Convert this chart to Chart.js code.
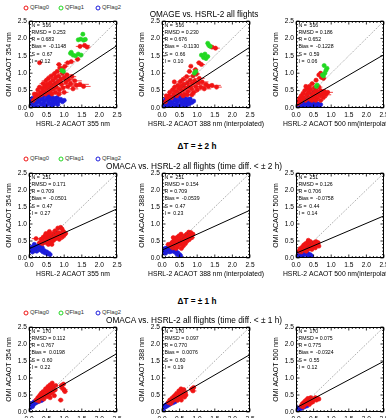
<!DOCTYPE html>
<html><head><meta charset="utf-8">
<script src="https://cdn.jsdelivr.net/npm/chart.js@4.4.0/dist/chart.umd.min.js"></script>
<style>
html,body{margin:0;padding:0;background:#fff;width:386px;height:418px;overflow:hidden;position:relative;font-family:"Liberation Sans",Arial,sans-serif;}
canvas{position:absolute;}
.t{position:absolute;white-space:pre;transform:translate(-50%,-50%);color:#000;line-height:1;z-index:5;}
.lg{position:absolute;font-size:5.8px;color:#333;white-space:pre;transform:translateY(-50%);line-height:1;z-index:5;}
.c{position:absolute;width:3px;height:3px;border-radius:50%;border:0.8px solid;transform:translate(-50%,-50%);z-index:5;}
</style>
</head><body>
<script>
// ---------- data ----------
const xAxisLabels = ['HSRL-2 ACAOT 355 nm','HSRL-2 ACAOT 388 nm (interpolated)','HSRL-2 ACAOT 500 nm(interpolated)'];
const yAxisLabels = ['OMI ACAOT 354 nm','OMI ACAOT 388 nm','OMI ACAOT 500 nm'];
const tickValues = [0,0.5,1,1.5,2,2.5];
const legendLabels = ['QFlag0','QFlag1','QFlag2'];
const rowTitles = ['OMAGE vs. HSRL-2 all flights','OMACA vs. HSRL-2 all flights (time diff. < ± 2 h)','OMACA vs. HSRL-2 all flights (time diff. < ± 1 h)'];
const rowHeaders = ['', 'ΔT = ± 2 h', 'ΔT = ± 1 h'];

const statN    = [516,516,516,251,251,251,170,170,170];
const statRMSD = ['0.253','0.230','0.186','0.171','0.154','0.126','0.112','0.097','0.075'];
const statR    = ['0.683','0.676','0.652','0.709','0.709','0.706','0.767','0.770','0.775'];
const statBias = ['-0.1148','-0.1130','-0.1228','-0.0501','-0.0539','-0.0758','0.0198','0.0076','-0.0324'];
const statS    = [0.67,0.66,0.59,0.47,0.47,0.44,0.60,0.60,0.55];
const statI    = [0.12,0.10,0.06,0.27,0.23,0.14,0.22,0.19,0.12];

// [x, y, xerr]
const red354All = [[0.12,0.22,0.05],[0.18,0.30,0.05],[0.22,0.40,0.06],[0.25,0.52,0.05],[0.28,0.35,0.06],[0.30,0.60,0.08],[0.33,0.45,0.07],[0.35,0.38,0.05],[0.38,0.55,0.08],[0.40,0.70,0.1],[0.42,0.48,0.06],[0.45,0.62,0.1],[0.47,0.40,0.06],[0.48,0.78,0.12],[0.50,0.55,0.1],[0.52,0.68,0.08],[0.55,0.45,0.07],[0.55,0.85,0.1],[0.58,0.60,0.12],[0.60,0.72,0.1],[0.62,0.50,0.08],[0.63,0.92,0.1],[0.65,0.65,0.15],[0.68,0.80,0.1],[0.70,0.55,0.1],[0.72,0.98,0.08],[0.74,0.70,0.15],[0.76,0.88,0.12],[0.78,0.60,0.1],[0.80,1.05,0.1],[0.82,0.75,0.15],[0.84,0.92,0.1],[0.86,0.52,0.1],[0.88,1.15,0.08],[0.90,0.82,0.18],[0.92,0.68,0.15],[0.95,1.00,0.12],[0.97,0.58,0.12],[1.00,0.88,0.15],[1.02,1.20,0.1],[1.05,0.75,0.18],[1.08,0.95,0.15],[1.10,0.62,0.2],[1.12,0.82,0.15],[1.18,0.70,0.2],[1.22,0.90,0.12],[1.25,0.55,0.15],[1.30,0.78,0.2],[1.35,0.65,0.2],[1.45,0.68,0.25],[1.55,0.62,0.2],[0.30,1.30,0.03],[0.85,1.25,0.08],[0.95,1.12,0.1],[1.10,1.30,0.1],[1.20,1.33,0.1],[1.38,1.40,0.08],[1.58,1.80,0.15],[1.65,1.75,0.1],[1.45,1.77,0.12],[0.15,0.40,0.04],[0.65,0.40,0.08],[0.75,0.45,0.1],[0.85,0.40,0.1],[1.00,0.45,0.12]];
const green354All = [[1.53,2.12],[1.40,1.96],[1.47,1.98],[1.55,1.95],[1.60,1.97],[1.18,1.57],[1.25,1.52],[1.32,1.50],[1.40,1.55],[1.48,1.52],[1.20,1.60],[0.93,1.08],[0.98,1.05]];
const blue354All = [[0.02,0.10],[0.05,0.20],[0.08,0.15],[0.10,0.28],[0.12,0.08],[0.15,0.22],[0.18,0.32],[0.20,0.15],[0.22,0.25],[0.25,0.05],[0.28,0.30],[0.30,0.18],[0.32,0.35],[0.35,0.10],[0.38,0.25],[0.40,0.32],[0.42,0.15],[0.45,0.22],[0.48,0.36],[0.50,0.08],[0.52,0.28],[0.55,0.18],[0.58,0.33],[0.60,0.12],[0.62,0.25],[0.65,0.30],[0.68,0.18],[0.70,0.10],[0.72,0.28],[0.75,0.22],[0.78,0.15],[0.80,0.30],[0.85,0.20],[0.90,0.25],[0.95,0.18],[1.00,0.22],[0.35,0.28],[0.45,0.05],[0.55,0.38],[0.15,0.05],[0.25,0.18],[0.65,0.05],[0.82,0.10]];

const red388All = [[0.10,0.18,0.04],[0.15,0.28,0.05],[0.20,0.35,0.05],[0.22,0.45,0.06],[0.27,0.30,0.05],[0.30,0.52,0.08],[0.33,0.40,0.06],[0.36,0.60,0.08],[0.40,0.48,0.08],[0.42,0.35,0.06],[0.45,0.65,0.1],[0.48,0.55,0.1],[0.50,0.42,0.08],[0.52,0.75,0.1],[0.55,0.62,0.1],[0.58,0.50,0.1],[0.60,0.82,0.1],[0.62,0.68,0.12],[0.65,0.40,0.08],[0.66,0.58,0.12],[0.70,0.90,0.1],[0.72,0.72,0.15],[0.74,0.48,0.1],[0.76,0.62,0.12],[0.78,1.05,0.08],[0.80,0.80,0.15],[0.82,1.20,0.06],[0.84,0.55,0.12],[0.86,0.70,0.18],[0.88,0.92,0.12],[0.90,0.45,0.1],[0.93,0.78,0.15],[0.96,0.62,0.15],[0.98,0.98,0.1],[1.00,0.52,0.12],[1.03,0.72,0.2],[1.06,0.85,0.15],[1.10,0.60,0.2],[1.14,0.75,0.18],[1.20,0.55,0.2],[1.25,0.68,0.2],[1.32,0.62,0.22],[1.42,0.65,0.25],[1.55,0.60,0.15],[0.95,1.10,0.08],[1.05,1.30,0.08],[1.12,1.25,0.1],[1.42,1.75,0.12],[1.52,1.72,0.12],[0.60,0.35,0.08],[0.72,0.38,0.1],[0.85,0.38,0.1],[0.35,0.75,0.05],[0.12,0.35,0.04]];
const green388All = [[1.30,1.86],[1.37,1.77],[1.33,1.80],[1.12,1.52],[1.18,1.45],[1.25,1.42],[1.30,1.48],[1.22,1.55],[0.92,1.00],[0.96,1.05]];
const blue388All = [[0.02,0.08],[0.05,0.18],[0.08,0.12],[0.10,0.25],[0.12,0.06],[0.15,0.20],[0.18,0.30],[0.20,0.12],[0.22,0.22],[0.25,0.04],[0.28,0.28],[0.30,0.15],[0.32,0.33],[0.35,0.08],[0.38,0.22],[0.40,0.30],[0.42,0.12],[0.45,0.20],[0.48,0.34],[0.50,0.06],[0.52,0.25],[0.55,0.15],[0.58,0.30],[0.60,0.10],[0.62,0.22],[0.65,0.28],[0.68,0.15],[0.70,0.08],[0.72,0.25],[0.75,0.18],[0.78,0.12],[0.80,0.26],[0.85,0.16],[0.90,0.20],[0.35,0.25],[0.45,0.04],[0.55,0.35],[0.15,0.04],[0.25,0.15],[0.65,0.04]];

const red500All = [[0.05,0.12,0.03],[0.08,0.20,0.04],[0.10,0.28,0.04],[0.13,0.18,0.04],[0.15,0.35,0.05],[0.18,0.25,0.05],[0.20,0.42,0.06],[0.22,0.30,0.05],[0.25,0.50,0.06],[0.27,0.22,0.05],[0.30,0.38,0.08],[0.32,0.55,0.08],[0.35,0.30,0.06],[0.36,0.45,0.08],[0.38,0.62,0.06],[0.40,0.25,0.06],[0.42,0.52,0.1],[0.44,0.38,0.1],[0.46,0.70,0.08],[0.48,0.30,0.08],[0.50,0.45,0.12],[0.52,0.58,0.1],[0.55,0.35,0.1],[0.57,0.80,0.06],[0.58,0.50,0.12],[0.60,0.28,0.08],[0.62,0.42,0.12],[0.65,0.60,0.1],[0.68,0.35,0.12],[0.70,0.50,0.15],[0.72,0.88,0.05],[0.75,0.40,0.12],[0.78,0.30,0.1],[0.80,0.48,0.15],[0.85,0.38,0.15],[0.90,0.45,0.15],[0.65,0.95,0.06],[0.70,1.00,0.06],[0.78,0.85,0.08],[0.28,0.62,0.04],[0.45,0.22,0.06],[0.56,0.22,0.08],[0.70,0.22,0.08]];
const green500All = [[0.80,1.22],[0.88,1.14],[0.85,1.08],[0.82,1.00],[0.78,0.92],[0.75,0.95],[0.58,0.62],[0.60,0.66]];
const blue500All = [[0.02,0.05],[0.04,0.12],[0.06,0.08],[0.08,0.16],[0.10,0.04],[0.12,0.12],[0.14,0.20],[0.16,0.08],[0.18,0.14],[0.20,0.03],[0.22,0.18],[0.24,0.10],[0.26,0.22],[0.28,0.06],[0.30,0.14],[0.32,0.20],[0.34,0.08],[0.36,0.16],[0.38,0.25],[0.40,0.05],[0.42,0.12],[0.44,0.18],[0.46,0.08],[0.48,0.14],[0.50,0.04],[0.52,0.10],[0.55,0.16],[0.58,0.08],[0.62,0.12],[0.66,0.06],[0.70,0.10],[0.30,0.02],[0.15,0.25]];

const red354Dt2 = [[0.20,0.57,0.12],[0.30,0.45,0.08],[0.35,0.55,0.08],[0.38,0.42,0.06],[0.40,0.60,0.1],[0.42,0.50,0.08],[0.45,0.65,0.1],[0.47,0.45,0.08],[0.50,0.58,0.1],[0.52,0.70,0.08],[0.55,0.50,0.1],[0.57,0.62,0.1],[0.58,0.78,0.06],[0.60,0.55,0.12],[0.62,0.68,0.1],[0.64,0.48,0.08],[0.66,0.60,0.12],[0.68,0.72,0.1],[0.70,0.52,0.1],[0.72,0.65,0.12],[0.74,0.80,0.08],[0.76,0.58,0.1],[0.78,0.70,0.12],[0.80,0.62,0.1],[0.82,0.88,0.06],[0.84,0.75,0.1],[0.86,0.55,0.1],[0.88,0.68,0.12],[0.90,0.90,0.05],[0.92,0.72,0.1],[0.95,0.62,0.1],[0.98,0.78,0.08],[1.00,0.68,0.08],[1.04,0.72,0.06],[0.55,0.40,0.06],[0.65,0.40,0.06],[0.48,0.72,0.05],[0.94,0.85,0.05]];
const blue354Dt2 = [[0.02,0.20],[0.04,0.28],[0.06,0.22],[0.08,0.32],[0.10,0.18],[0.12,0.25],[0.14,0.30],[0.16,0.22],[0.18,0.35],[0.20,0.28],[0.22,0.20],[0.25,0.32],[0.28,0.25],[0.30,0.35],[0.32,0.28],[0.35,0.22],[0.38,0.30],[0.40,0.18],[0.43,0.22],[0.46,0.15],[0.50,0.18],[0.53,0.12],[0.56,0.14],[0.60,0.10],[0.28,0.38],[0.15,0.40]];

const red388Dt2 = [[0.18,0.40,0.08],[0.25,0.35,0.06],[0.28,0.45,0.08],[0.30,0.30,0.06],[0.33,0.50,0.08],[0.35,0.38,0.06],[0.37,0.55,0.08],[0.40,0.42,0.08],[0.42,0.60,0.08],[0.44,0.32,0.06],[0.46,0.50,0.1],[0.48,0.65,0.08],[0.50,0.40,0.08],[0.52,0.55,0.1],[0.54,0.70,0.06],[0.56,0.45,0.1],[0.58,0.60,0.1],[0.60,0.35,0.08],[0.62,0.52,0.1],[0.64,0.65,0.1],[0.66,0.42,0.08],[0.68,0.58,0.1],[0.70,0.70,0.08],[0.72,0.50,0.1],[0.74,0.62,0.1],[0.76,0.76,0.06],[0.78,0.55,0.08],[0.80,0.68,0.08],[0.82,0.75,0.06],[0.85,0.60,0.08],[0.88,0.70,0.06],[0.40,0.28,0.06],[0.55,0.28,0.06],[0.32,0.60,0.05]];
const blue388Dt2 = [[0.02,0.15],[0.04,0.22],[0.06,0.18],[0.08,0.28],[0.10,0.14],[0.12,0.22],[0.14,0.30],[0.16,0.20],[0.18,0.26],[0.20,0.33],[0.22,0.18],[0.25,0.26],[0.28,0.20],[0.30,0.30],[0.33,0.24],[0.36,0.18],[0.39,0.22],[0.42,0.12],[0.45,0.15],[0.48,0.08],[0.50,0.10],[0.53,0.06],[0.26,0.35]];

const red500Dt2 = [[0.08,0.20,0.04],[0.12,0.28,0.05],[0.15,0.18,0.04],[0.18,0.32,0.06],[0.20,0.24,0.05],[0.22,0.38,0.06],[0.25,0.28,0.06],[0.27,0.42,0.06],[0.29,0.20,0.05],[0.31,0.34,0.08],[0.33,0.46,0.06],[0.35,0.26,0.06],[0.37,0.38,0.08],[0.39,0.30,0.08],[0.41,0.48,0.05],[0.43,0.35,0.08],[0.45,0.25,0.06],[0.47,0.42,0.08],[0.49,0.32,0.08],[0.51,0.45,0.06],[0.53,0.38,0.08],[0.55,0.30,0.06],[0.57,0.48,0.05],[0.60,0.40,0.06],[0.63,0.45,0.05],[0.65,0.35,0.05],[0.35,0.52,0.04]];
const blue500Dt2 = [[0.02,0.05],[0.04,0.10],[0.06,0.08],[0.08,0.14],[0.10,0.06],[0.12,0.12],[0.14,0.18],[0.16,0.10],[0.18,0.15],[0.20,0.08],[0.22,0.20],[0.25,0.12],[0.28,0.16],[0.30,0.10],[0.33,0.14],[0.36,0.08],[0.40,0.10],[0.44,0.06]];

const red354Dt1 = [[0.20,0.35,0.05],[0.25,0.42,0.06],[0.28,0.32,0.05],[0.30,0.48,0.06],[0.33,0.40,0.06],[0.35,0.55,0.08],[0.38,0.45,0.06],[0.40,0.60,0.08],[0.42,0.38,0.06],[0.45,0.52,0.08],[0.47,0.68,0.06],[0.50,0.45,0.08],[0.52,0.60,0.08],[0.54,0.75,0.06],[0.56,0.50,0.08],[0.58,0.65,0.08],[0.60,0.80,0.05],[0.62,0.55,0.08],[0.64,0.70,0.08],[0.66,0.85,0.05],[0.68,0.60,0.08],[0.70,0.75,0.06],[0.72,0.48,0.06],[0.74,0.65,0.08],[0.76,0.78,0.06],[0.60,0.42,0.06],[0.92,0.78,0.08],[0.95,0.70,0.1],[1.00,0.65,0.1],[0.98,0.82,0.06],[1.02,0.60,0.08],[0.90,0.35,0.08]];
const blue354Dt1 = [[0.01,0.15],[0.03,0.20],[0.05,0.18],[0.07,0.24],[0.09,0.20],[0.11,0.26],[0.13,0.22],[0.15,0.30],[0.17,0.26],[0.19,0.32],[0.21,0.28],[0.23,0.35],[0.25,0.30],[0.27,0.36],[0.30,0.32],[0.33,0.38],[0.36,0.34],[0.40,0.38],[0.03,0.12],[0.10,0.16]];

const red388Dt1 = [[0.18,0.28,0.05],[0.22,0.35,0.05],[0.25,0.25,0.05],[0.28,0.40,0.06],[0.30,0.32,0.05],[0.33,0.45,0.06],[0.35,0.36,0.06],[0.38,0.50,0.06],[0.40,0.40,0.06],[0.42,0.55,0.06],[0.44,0.34,0.06],[0.46,0.48,0.08],[0.48,0.62,0.06],[0.50,0.42,0.08],[0.52,0.55,0.08],[0.54,0.68,0.05],[0.56,0.46,0.08],[0.58,0.60,0.06],[0.60,0.52,0.08],[0.62,0.66,0.06],[0.64,0.44,0.06],[0.66,0.58,0.06],[0.68,0.50,0.06],[0.55,0.35,0.05],[0.85,0.68,0.08],[0.88,0.62,0.1],[0.90,0.72,0.06]];
const blue388Dt1 = [[0.01,0.10],[0.03,0.15],[0.05,0.12],[0.07,0.18],[0.09,0.15],[0.11,0.20],[0.13,0.17],[0.15,0.24],[0.17,0.20],[0.19,0.26],[0.21,0.22],[0.23,0.28],[0.25,0.25],[0.28,0.30],[0.31,0.27],[0.34,0.32],[0.37,0.30],[0.02,0.06]];

const red500Dt1 = [[0.15,0.18,0.04],[0.18,0.24,0.04],[0.20,0.15,0.04],[0.22,0.28,0.05],[0.24,0.20,0.04],[0.26,0.32,0.05],[0.28,0.24,0.05],[0.30,0.36,0.05],[0.32,0.26,0.05],[0.34,0.40,0.04],[0.36,0.30,0.05],[0.38,0.22,0.05],[0.40,0.34,0.05],[0.42,0.42,0.04],[0.44,0.28,0.05],[0.46,0.36,0.05],[0.48,0.30,0.05],[0.52,0.38,0.06],[0.55,0.42,0.05],[0.58,0.35,0.06],[0.62,0.40,0.05],[0.65,0.38,0.04]];
const blue500Dt1 = [[0.01,0.04],[0.03,0.08],[0.05,0.06],[0.07,0.10],[0.09,0.08],[0.11,0.13],[0.13,0.10],[0.15,0.15],[0.17,0.12],[0.19,0.17],[0.21,0.14],[0.23,0.19],[0.25,0.16],[0.28,0.20],[0.31,0.18],[0.34,0.22],[0.02,0.12]];

const emptyGreen = [];

// ---------- layout ----------
const colLeft = [29,162,296];
const rowTop = [21,173,327];
const rowH = [87,85,85];
const plotW = 88;
const AXW = 24, AXH = 20, PADT = 6, PADR = 16;
const RED = '#f01414', GREEN = '#22d822', BLUE = '#1c1cdc';
const FONT = '"Liberation Sans", Arial, Helvetica, sans-serif';
Chart.defaults.font.family = FONT;
Chart.defaults.color = '#000';

const panels = [
  [red354All, green354All, blue354All],
  [red388All, green388All, blue388All],
  [red500All, green500All, blue500All],
  [red354Dt2, emptyGreen, blue354Dt2],
  [red388Dt2, emptyGreen, blue388Dt2],
  [red500Dt2, emptyGreen, blue500Dt2],
  [red354Dt1, emptyGreen, blue354Dt1],
  [red388Dt1, emptyGreen, blue388Dt1],
  [red500Dt1, emptyGreen, blue500Dt1]
];

function addText(txt, x, y, size, bold){
  const d = document.createElement('div');
  d.className = 't'; d.textContent = txt;
  d.style.left = x+'px'; d.style.top = y+'px';
  d.style.fontSize = size+'px';
  if (bold) d.style.fontWeight = 'bold';
  document.body.appendChild(d);
}
function addLegend(y){
  const cols = [RED, GREEN, BLUE];
  const xs = [26, 61, 98];
  legendLabels.forEach((l,i)=>{
    const c = document.createElement('div'); c.className='c';
    c.style.left = xs[i]+'px'; c.style.top = y+'px'; c.style.borderColor = cols[i];
    document.body.appendChild(c);
    const t = document.createElement('div'); t.className='lg'; t.textContent = l;
    t.style.left = (xs[i]+4)+'px'; t.style.top = y+'px';
    document.body.appendChild(t);
  });
}
addLegend(7.5);
addText(rowTitles[0], 204, 14.5, 8.2);
addText(rowHeaders[1], 197, 147, 8.2, true);
addLegend(159);
addText(rowTitles[1], 194, 165.5, 8.3);
addText(rowHeaders[2], 197, 302, 8.2, true);
addLegend(313);
addText(rowTitles[2], 194, 319.5, 8.3);

const deco = {
  id: 'deco',
  beforeDatasetDraw(chart, args){
    const ds = chart.data.datasets[args.index];
    if (!ds.errs) return;
    const ctx = chart.ctx, xs = chart.scales.x, a = chart.chartArea;
    ctx.save();
    ctx.beginPath(); ctx.rect(a.left, a.top, a.right-a.left, a.bottom-a.top); ctx.clip();
    ctx.strokeStyle = ds.borderColor; ctx.lineWidth = 0.8;
    ctx.beginPath();
    ds.data.forEach((p,i)=>{
      const e = ds.errs[i]; if (!e) return;
      const el = args.meta.data[i];
      ctx.moveTo(xs.getPixelForValue(p.x-e), el.y);
      ctx.lineTo(xs.getPixelForValue(p.x+e), el.y);
    });
    ctx.stroke();
    ctx.restore();
  },
  afterDatasetsDraw(chart, args, opts){
    const ctx = chart.ctx, a = chart.chartArea, xs = chart.scales.x, ys = chart.scales.y;
    ctx.save();
    ctx.strokeStyle = '#000'; ctx.lineWidth = 1;
    const L = Math.round(a.left)+0.5, T = Math.round(a.top)+0.5, R = Math.round(a.right)-0.5, B = Math.round(a.bottom)-0.5;
    ctx.strokeRect(L, T, R-L, B-T);
    ctx.lineWidth = 0.8;
    ctx.beginPath();
    for (let k = 0; k <= 25; k++){
      const v = k/10;
      const len = (k % 5 === 0) ? 3 : 1.5;
      const px = xs.getPixelForValue(v), py = ys.getPixelForValue(v);
      ctx.moveTo(px, B); ctx.lineTo(px, B-len);
      ctx.moveTo(px, T); ctx.lineTo(px, T+len);
      ctx.moveTo(L, py); ctx.lineTo(L+len, py);
      ctx.moveTo(R, py); ctx.lineTo(R-len, py);
    }
    ctx.stroke();
    ctx.fillStyle = '#000';
    ctx.font = '5.2px ' + FONT;
    ctx.textBaseline = 'middle'; ctx.textAlign = 'left';
    opts.lines.forEach((s,i)=> ctx.fillText(s, a.left+2.5, a.top+4.3+i*7.2));
    // x-axis title (drawn without width squeeze)
    ctx.font = '6.8px ' + FONT;
    ctx.textAlign = 'center';
    ctx.fillText(opts.xTitle, (a.left+a.right)/2, a.bottom + AXH - 4.2);
    ctx.restore();
  }
};

panels.forEach((p, idx)=>{
  const row = Math.floor(idx/3), col = idx%3;
  const ph = rowH[row];
  const cv = document.createElement('canvas');
  const W = AXW + plotW + PADR, H = PADT + ph + AXH;
  cv.width = W; cv.height = H;
  cv.style.left = (colLeft[col]-AXW)+'px';
  cv.style.top = (rowTop[row]-PADT)+'px';
  cv.style.width = W+'px'; cv.style.height = H+'px';
  document.body.appendChild(cv);

  const toPts = arr => arr.map(d=>({x:d[0], y:d[1]}));
  const toErr = arr => arr.map(d=>d[2] || 0);
  const S = statS[idx], I = statI[idx];
  const lines = [
    'N =  ' + statN[idx],
    'RMSD = ' + statRMSD[idx],
    'R = ' + statR[idx],
    'Bias =  ' + statBias[idx],
    'S =  ' + S.toFixed(2),
    'I =  ' + I.toFixed(2)
  ];
  const ptStyle = (c)=>({backgroundColor:c, borderColor:c, pointRadius:2.1, pointBorderWidth:0.6, showLine:false});
  new Chart(cv, {
    type: 'scatter',
    data: { datasets: [
      Object.assign({label:legendLabels[2], data: toPts(p[2]), errs: toErr(p[2]), order:4}, ptStyle(BLUE)),
      Object.assign({label:legendLabels[0], data: toPts(p[0]), errs: toErr(p[0]), order:3}, ptStyle(RED)),
      Object.assign({label:legendLabels[1], data: toPts(p[1]), order:2}, ptStyle(GREEN)),
      {label:'1:1', data:[{x:0,y:0},{x:2.5,y:2.5}], showLine:true, pointRadius:0, borderColor:'#444', borderWidth:0.6, borderDash:[1,1.5], order:1},
      {label:'fit', data:[{x:0,y:I},{x:2.5,y:I+S*2.5}], showLine:true, pointRadius:0, borderColor:'#000', borderWidth:1, order:0}
    ]},
    options: {
      responsive:false, animation:false, devicePixelRatio:1,
      layout:{padding:{top:PADT, right:PADR, left:0, bottom:0}},
      plugins:{legend:{display:false}, tooltip:{enabled:false}, deco:{lines, xTitle:xAxisLabels[col]}},
      scales:{
        x:{type:'linear', min:0, max:2.5,
           grid:{display:false, drawTicks:false, tickLength:0}, border:{display:false},
           ticks:{font:{size:6.6}, padding:3, maxRotation:0, callback:v=>v.toFixed(1)},
           afterBuildTicks:s=>{s.ticks = tickValues.map(v=>({value:v}));},
           afterFit:s=>{s.height = AXH; s.paddingLeft=0; s.paddingRight=0;},
           title:{display:false}},
        y:{type:'linear', min:0, max:2.5,
           grid:{display:false, drawTicks:false, tickLength:0}, border:{display:false},
           ticks:{font:{size:6.6}, padding:2, callback:v=>v.toFixed(1)},
           afterBuildTicks:s=>{s.ticks = tickValues.map(v=>({value:v}));},
           afterFit:s=>{s.width = AXW; s.paddingTop=0; s.paddingBottom=0;},
           title:{display:true, text:yAxisLabels[col], font:{size:7}, padding:0}}
      }
    },
    plugins:[deco]
  });
});
</script>
</body></html>
